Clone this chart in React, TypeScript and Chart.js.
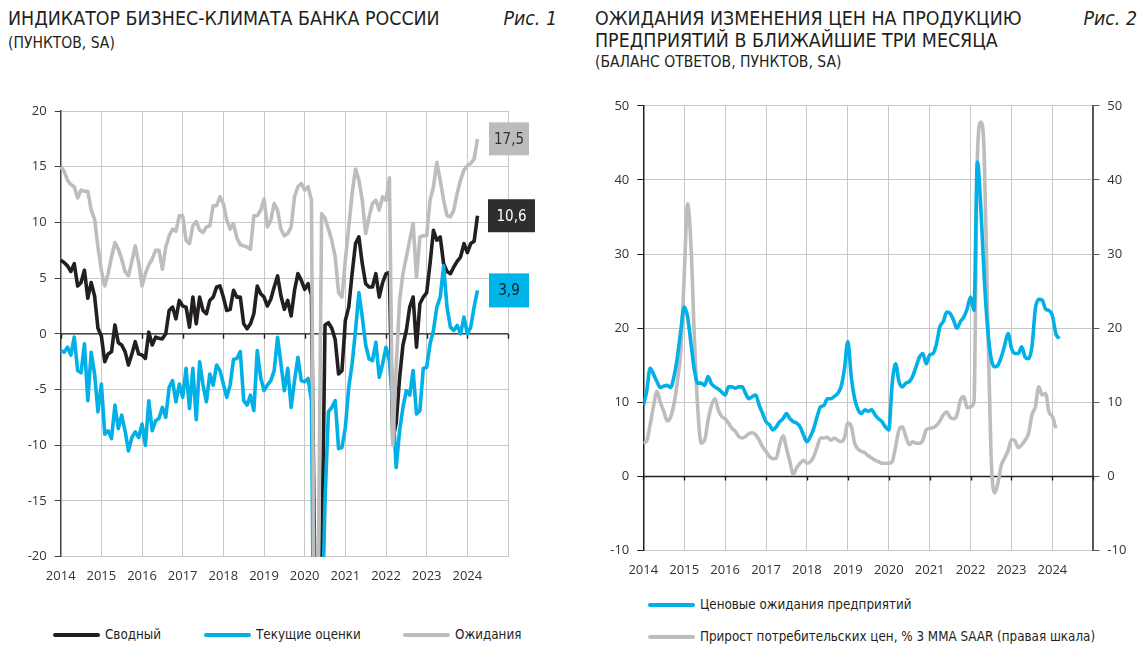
import React, { useEffect, useRef } from 'react';
import { Chart, registerables } from 'chart.js';

Chart.register(...registerables);

// ---------- DATA ----------
const START_YEAR = 2014;

// Рис. 1 — monthly, Jan 2014 … Apr 2024
const composite = [
  6.6, 6.4, 6.1, 5.6, 6.3, 4.3, 4.6, 5.7, 3.2, 4.6, 3.4, 0.5,
  -0.2, -2.5, -1.8, -1.6, 0.8, -0.8, -1.0, -1.6, -2.8, -1.8, -0.7, -1.8,
  -1.9, -2.2, 0.15, -1.0, -0.3, -0.4, -0.45, 0.0, 2.1, 2.4, 1.35, 3.0,
  2.5, 2.4, 0.6, 3.3, 0.9, 3.3, 2.1, 1.8, 3.0, 3.3, 4.2, 4.3,
  3.3, 2.1, 2.2, 3.9, 3.3, 3.3, 0.9, 0.45, 0.9, 1.8, 4.3, 3.6,
  3.3, 2.5, 3.1, 4.2, 5.2, 3.4, 2.2, 3.0, 1.6, 3.9, 5.4, 4.8,
  4.0, 4.5, 3.5, -22.0, -30.0, -22.0, 0.8, 1.0, 0.5, -0.5, -3.6, -3.3,
  1.2, 2.4, 5.4, 8.1, 8.7, 6.3, 4.5, 4.2, 4.2, 5.4, 3.3, 4.6,
  5.4, 5.5, -9.5, -8.0, -4.0, -1.0, 0.3, 2.4, 3.3, -1.2, 2.7, 3.3,
  3.7, 6.3, 9.3, 8.4, 8.7, 6.3, 5.6, 5.4, 6.0, 6.5, 6.9, 8.1,
  7.3, 8.1, 8.3, 10.6,
];

const currentEst = [
  -1.5, -1.65, -1.2, -1.9, -0.3, -3.3, -3.5, -0.9, -6.0, -1.65, -3.6, -7.0,
  -4.5, -9.0, -8.7, -9.4, -6.4, -8.5, -7.3, -8.7, -10.5, -9.3, -8.8, -9.3,
  -8.1, -10.0, -6.0, -8.7, -7.8, -7.6, -6.6, -7.5, -4.8, -4.2, -6.1, -4.5,
  -5.7, -3.1, -6.7, -3.1, -7.7, -2.5, -4.6, -6.1, -3.6, -4.6, -2.8, -3.3,
  -4.5, -5.7, -4.6, -2.3, -2.2, -1.6, -6.0, -6.4, -5.5, -6.9, -1.5, -3.9,
  -5.1, -4.6, -4.2, -3.3, -0.3, -2.7, -5.1, -3.1, -6.6, -4.2, -2.1, -4.2,
  -4.3, -4.0, -6.0, -40.0, -35.0, -28.0, -15.0, -7.0, -6.6, -6.0, -10.3, -10.2,
  -8.4, -4.8, -2.7, 0.3, 3.7, 1.5, -1.0, -2.25, -2.4, -0.75, -3.9, -2.7,
  -1.2, -2.4, -6.5, -12.0, -8.7, -6.6, -5.1, -5.5, -3.3, -7.2, -6.9, -3.1,
  -3.0, -0.9, 0.3, 2.4, 3.3, 6.1, 2.4, 0.6, 0.3, 0.75, 0.0, 1.5,
  0.0, 0.6, 2.4, 3.9,
];

const expectations = [
  15.0, 14.6, 13.8, 13.4, 13.2, 12.2, 12.9, 12.8, 12.8, 11.1, 10.3, 7.8,
  5.7, 4.3, 5.4, 6.9, 8.2, 7.6, 6.7, 5.6, 5.2, 6.5, 7.9, 6.4,
  4.3, 5.4, 6.2, 6.7, 7.5, 7.5, 5.8, 7.8, 8.8, 9.4, 9.2, 10.6,
  10.6, 8.4, 8.1, 9.7, 10.1, 9.3, 9.1, 9.6, 9.7, 11.5, 11.5, 12.3,
  11.7, 10.2, 9.4, 9.9, 8.6, 8.0, 7.9, 7.8, 7.6, 10.6, 10.6, 11.1,
  12.1, 9.6, 10.2, 11.7, 11.1, 9.4, 8.8, 9.0, 9.6, 12.3, 13.2, 13.5,
  12.9, 13.2, 12.0, -35.0, -22.0, 10.8, 10.4, 9.4, 8.4, 6.9, 3.7, 3.3,
  6.6, 9.6, 12.6, 14.8, 13.8, 12.0, 9.0, 10.5, 11.7, 12.0, 11.1, 12.3,
  12.0, 14.0, -10.0, -3.0, 3.0, 5.4, 6.9, 8.4, 9.9, 5.1, 8.7, 8.8,
  8.8, 12.0, 13.2, 15.4, 13.8, 12.0, 10.6, 10.5, 11.1, 12.6, 13.8, 14.7,
  15.1, 15.3, 15.7, 17.5,
];

// Рис. 2 — monthly, Jan 2014 … Mar 2024 / Feb 2024
const priceExpect = [
  9.6, 11.5, 14.6, 13.8, 12.8, 12.0, 12.2, 12.3, 12.0, 13.5, 16.1, 19.7,
  22.9, 21.5, 17.9, 14.3, 12.6, 12.6, 12.3, 13.5, 12.5, 12.1, 11.8, 11.4,
  11.0, 12.1, 12.1, 11.9, 12.1, 12.1, 11.2, 10.5, 10.8, 11.0, 9.6, 8.5,
  7.4, 7.0, 6.3, 6.7, 7.4, 7.8, 8.5, 7.8, 7.4, 7.2, 6.7, 5.6,
  4.7, 5.4, 6.5, 8.1, 9.4, 9.6, 10.5, 10.5, 10.8, 11.2, 12.1, 14.5,
  18.2, 13.5, 10.5, 9.0, 8.5, 9.0, 8.8, 9.0, 8.3, 7.8, 7.4, 6.7,
  6.3, 12.5, 15.2, 12.8, 12.1, 12.6, 12.8, 13.5, 14.8, 16.1, 16.6, 15.2,
  16.4, 16.6, 17.9, 20.2, 20.9, 22.2, 22.0, 21.1, 20.0, 20.9, 21.5, 22.6,
  24.2, 22.4, 42.4, 36.3, 26.9, 20.0, 16.0, 14.8, 15.0, 16.1, 17.7, 19.3,
  17.3, 16.6, 16.6, 17.5, 16.1, 15.9, 17.5, 22.6, 23.9, 23.8, 22.6, 22.4,
  21.7, 19.3, 18.6,
];

const cpiSaar = [
  4.5, 4.8, 7.0, 9.5, 11.5, 10.0, 8.8, 7.5, 8.0, 9.8, 12.8, 17.0,
  27.0, 36.8, 31.0, 18.5, 9.0, 4.5, 4.9, 7.6, 9.6, 10.5, 9.0, 8.1,
  7.8, 7.2, 6.5, 6.1, 5.4, 5.2, 5.4, 5.8, 5.9, 5.6, 4.9, 4.0,
  3.4, 2.7, 2.4, 2.5, 4.3, 5.5, 3.8, 2.0, 0.3, 1.2, 1.8, 2.2,
  1.8, 2.0, 2.7, 4.0, 5.2, 5.2, 5.3, 4.9, 5.2, 4.9, 4.7, 5.2,
  7.2, 6.8, 4.5, 3.7, 3.4, 3.2, 2.8, 2.5, 2.2, 2.0, 1.8, 1.8,
  1.8, 2.0, 4.0, 6.3, 6.7, 5.4, 4.3, 4.7, 4.5, 4.5, 4.9, 6.3,
  6.5, 6.6, 6.9, 7.5, 8.3, 8.7, 8.0, 7.8, 8.3, 10.3, 10.8, 9.3,
  9.4, 10.1, 43.0, 47.8, 43.5, 22.0, 3.0, -2.2, -0.9, 1.5, 2.5, 3.5,
  5.0, 4.8, 3.9, 4.3, 4.9, 5.8, 8.3, 9.4, 12.1, 11.0, 11.2, 8.7,
  8.1, 6.5,
];

const X_MIN = 2014;
const X_MAX = 2025;

// ---------- STYLE ----------
const BLACK = '#231f20';
const BLUE = '#00b0e6';
const GRAY = '#bdbdbd';
const GRID = '#c8c8c8';
const AXIS = '#404040';
const TICK_FONT = { family: '"Open Sans", "DejaVu Sans", sans-serif', size: 13 };
const COND = '"Liberation Sans Narrow", "DejaVu Sans Condensed", "Roboto", sans-serif';

const toPoints = (arr: number[]) => arr.map((v, i) => ({ x: START_YEAR + i / 12, y: v }));

const zeroLinePlugin = {
  id: 'zeroLine',
  beforeDatasetsDraw(chart: any, _a: any, opts: any) {
    const { ctx, chartArea, scales } = chart;
    const y0 = scales.y.getPixelForValue(0);
    ctx.save();
    ctx.strokeStyle = opts.color;
    ctx.lineWidth = opts.width;
    ctx.beginPath();
    ctx.moveTo(chartArea.left, y0);
    ctx.lineTo(chartArea.right, y0);
    scales.x.ticks.forEach((t: any) => {
      const px = Math.round(scales.x.getPixelForValue(t.value)) + 0.5;
      ctx.moveTo(px, y0);
      ctx.lineTo(px, y0 + opts.tick);
    });
    ctx.stroke();
    ctx.restore();
  },
};

const endLabelsPlugin = {
  id: 'endLabels',
  afterDraw(chart: any, _a: any, opts: any) {
    if (!opts.items) return;
    const { ctx, chartArea, scales } = chart;
    ctx.save();
    ctx.font = opts.font;
    ctx.textAlign = 'center';
    ctx.textBaseline = 'middle';
    opts.items.forEach((it: any) => {
      const ds = chart.data.datasets[it.datasetIndex];
      const last = ds.data[ds.data.length - 1];
      const py = scales.y.getPixelForValue(last.y);
      const left = chartArea.right + it.offset;
      ctx.fillStyle = it.bg;
      ctx.fillRect(left, py - it.height / 2, it.width, it.height);
      ctx.fillStyle = it.fg;
      ctx.fillText(last.y.toFixed(1).replace('.', ','), left + it.width / 2, py + 1);
    });
    ctx.restore();
  },
};

const yearTick = (v: any) => (Number(v) < X_MAX ? String(v) : '');

function config1(): any {
  const line = { borderWidth: 3.6, pointRadius: 0, tension: 0, borderJoinStyle: 'round', clip: { left: 4, right: 4, top: 4, bottom: 0 } };
  return {
    type: 'line',
    data: {
      datasets: [
        { label: 'Ожидания', data: toPoints(expectations), borderColor: GRAY, ...line },
        { label: 'Текущие оценки', data: toPoints(currentEst), borderColor: BLUE, ...line },
        { label: 'Сводный', data: toPoints(composite), borderColor: BLACK, ...line },
      ],
    },
    plugins: [zeroLinePlugin, endLabelsPlugin],
    options: {
      animation: false,
      responsive: true,
      maintainAspectRatio: false,
      layout: { padding: { top: 16, right: 65, left: 0, bottom: 0 } },
      plugins: {
        legend: { display: false },
        tooltip: { enabled: false },
        zeroLine: { color: BLACK, width: 1.4, tick: 5 },
        endLabels: {
          font: `15px ${COND}`,
          items: [
            { datasetIndex: 0, bg: '#bcbcbc', fg: '#333333', width: 40, height: 33, offset: -19 },
            { datasetIndex: 2, bg: '#2e2e2e', fg: '#ffffff', width: 47, height: 33, offset: -20 },
            { datasetIndex: 1, bg: '#00b4e8', fg: '#1a1a1a', width: 40, height: 34, offset: -19 },
          ],
        },
      },
      scales: {
        x: {
          type: 'linear', min: X_MIN, max: X_MAX,
          afterFit: (s: any) => { s.height = 38.3; },
          ticks: { stepSize: 1, autoSkip: false, maxRotation: 0, padding: 12, font: TICK_FONT, color: '#333', callback: yearTick },
          grid: { color: GRID, lineWidth: 1, drawTicks: false },
          border: { display: false },
        },
        y: {
          min: -20, max: 20,
          afterFit: (s: any) => { s.width = 60.7; },
          ticks: { stepSize: 5, padding: 8, font: TICK_FONT, color: '#333' },
          grid: { color: GRID, lineWidth: 1, tickColor: AXIS, tickLength: 6 },
          border: { color: AXIS, width: 1.5 },
        },
      },
    },
  };
}

function config2(): any {
  const line = { borderWidth: 3.6, pointRadius: 0, cubicInterpolationMode: 'monotone', borderJoinStyle: 'round' };
  return {
    type: 'line',
    data: {
      datasets: [
        { label: 'Ценовые ожидания предприятий', data: toPoints(priceExpect), borderColor: BLUE, yAxisID: 'y', ...line },
        { label: 'Прирост потребительских цен, % 3 MMA SAAR (правая шкала)', data: toPoints(cpiSaar), borderColor: GRAY, yAxisID: 'y2', ...line },
      ],
    },
    plugins: [zeroLinePlugin],
    options: {
      animation: false,
      responsive: true,
      maintainAspectRatio: false,
      layout: { padding: { top: 15, right: 0, left: 0, bottom: 0 } },
      plugins: {
        legend: { display: false },
        tooltip: { enabled: false },
        zeroLine: { color: BLACK, width: 1.4, tick: 4 },
      },
      scales: {
        x: {
          type: 'linear', min: X_MIN, max: X_MAX,
          afterFit: (s: any) => { s.height = 44.3; },
          ticks: { stepSize: 1, autoSkip: false, maxRotation: 0, padding: 12, font: TICK_FONT, color: '#333', callback: yearTick },
          grid: { color: GRID, lineWidth: 1, drawTicks: false },
          border: { display: false },
        },
        y: {
          position: 'left', min: -10, max: 50,
          afterFit: (s: any) => { s.width = 70.3; },
          ticks: { stepSize: 10, padding: 8, font: TICK_FONT, color: '#333' },
          grid: { color: GRID, lineWidth: 1, tickColor: BLACK, tickLength: 6 },
          border: { color: BLACK, width: 1.5 },
        },
        y2: {
          position: 'right', min: -10, max: 50,
          afterFit: (s: any) => { s.width = 52.7; },
          ticks: { stepSize: 10, padding: 8, font: TICK_FONT, color: '#333' },
          grid: { drawOnChartArea: false, tickColor: '#5a5a5a', tickLength: 6 },
          border: { color: '#5a5a5a', width: 2 },
        },
      },
    },
  };
}

function ChartBox({ makeConfig, style }: { makeConfig: () => any; style: React.CSSProperties }) {
  const ref = useRef<HTMLCanvasElement>(null);
  useEffect(() => {
    const chart = new Chart(ref.current as HTMLCanvasElement, makeConfig());
    return () => chart.destroy();
  }, []);
  return (
    <div style={{ position: 'absolute', ...style }}>
      <canvas ref={ref} />
    </div>
  );
}

function LegendItem({ x, y, color, text }: { x: number; y: number; color: string; text: string }) {
  return (
    <div style={{ position: 'absolute', left: x, top: y - 10, height: 20, display: 'flex', alignItems: 'center', whiteSpace: 'nowrap' }}>
      <span style={{ display: 'inline-block', width: 47, height: 4, borderRadius: 2, background: color, marginRight: 5 }} />
      <span style={{ fontSize: 13.3, lineHeight: '20px' }}>{text}</span>
    </div>
  );
}

export default function App() {
  const abs = (s: React.CSSProperties): React.CSSProperties => ({ position: 'absolute', whiteSpace: 'nowrap', ...s });
  return (
    <div style={{ position: 'fixed', left: 0, top: 0, width: 1146, height: 660, background: '#fff', fontFamily: COND, color: BLACK, overflow: 'hidden' }}>
      <div style={abs({ left: 8, top: 8, fontSize: 19.4, lineHeight: '22px' })}>ИНДИКАТОР БИЗНЕС-КЛИМАТА БАНКА РОССИИ</div>
      <div style={abs({ right: 1146 - 557, top: 8, fontSize: 19.4, lineHeight: '22px', fontStyle: 'italic' })}>Рис. 1</div>
      <div style={abs({ left: 8, top: 34, fontSize: 15.5, lineHeight: '18px' })}>(ПУНКТОВ, SA)</div>

      <div style={abs({ left: 595, top: 8, fontSize: 19.4, lineHeight: '22px' })}>
        ОЖИДАНИЯ ИЗМЕНЕНИЯ ЦЕН НА ПРОДУКЦИЮ<br />ПРЕДПРИЯТИЙ В БЛИЖАЙШИЕ ТРИ МЕСЯЦА
      </div>
      <div style={abs({ right: 1146 - 1137, top: 8, fontSize: 19.4, lineHeight: '22px', fontStyle: 'italic' })}>Рис. 2</div>
      <div style={abs({ left: 595, top: 53, fontSize: 15.5, lineHeight: '18px' })}>(БАЛАНС ОТВЕТОВ, ПУНКТОВ, SA)</div>

      <ChartBox makeConfig={config1} style={{ left: 0, top: 95, width: 573, height: 500 }} />
      <ChartBox makeConfig={config2} style={{ left: 573, top: 90, width: 573, height: 505 }} />

      <LegendItem x={53} y={635} color={BLACK} text="Сводный" />
      <LegendItem x={204} y={635} color={BLUE} text="Текущие оценки" />
      <LegendItem x={403} y={635} color={GRAY} text="Ожидания" />

      <LegendItem x={648} y={605} color={BLUE} text="Ценовые ожидания предприятий" />
      <LegendItem x={648} y={637} color={GRAY} text="Прирост потребительских цен, % 3 MMA SAAR (правая шкала)" />
    </div>
  );
}
